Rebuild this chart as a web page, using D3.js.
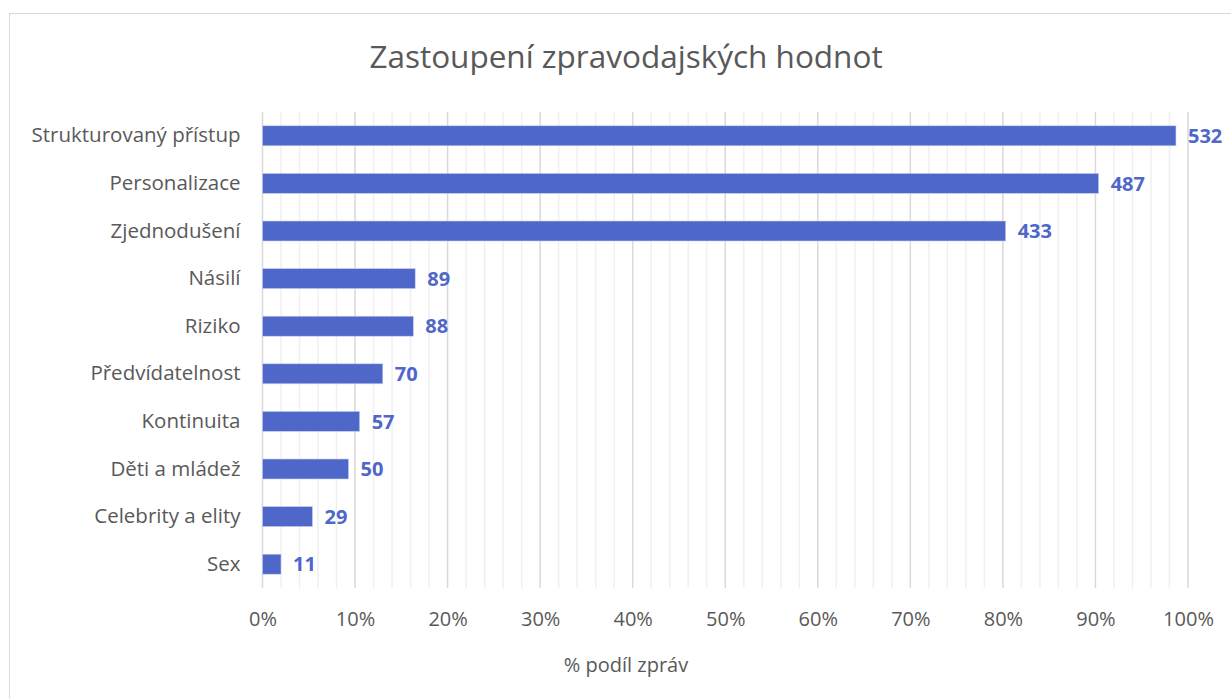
<!DOCTYPE html>
<html>
<head>
<meta charset="utf-8">
<script src="https://cdn.jsdelivr.net/npm/d3@7"></script>
<style>
  body { margin: 0; background: #fff; }
  svg { display: block; font-family: 'Open Sans', sans-serif; }
</style>
</head>
<body>
<svg width="1231" height="698"></svg>
<script>
// data
const categories = ['Strukturovaný přístup', 'Personalizace', 'Zjednodušení', 'Násilí', 'Riziko',
  'Předvídatelnost', 'Kontinuita', 'Děti a mládež', 'Celebrity a elity', 'Sex'];
const shares = [98.7, 90.35, 80.3, 16.5, 16.3, 13.0, 10.5, 9.3, 5.4, 2.0];
const counts = [532, 487, 433, 89, 88, 70, 57, 50, 29, 11];
const xTicks = [0, 10, 20, 30, 40, 50, 60, 70, 80, 90, 100];

let svg = d3.select('svg');
let margin = {top: 112, right: 43, bottom: 110, left: 262.5};
let width = +svg.attr('width') - margin.left - margin.right;
let height = +svg.attr('height') - margin.top - margin.bottom;

// outer chart border
svg.append('rect')
  .attr('x', 9.5).attr('y', 13.5)
  .attr('width', 1240).attr('height', 700)
  .attr('fill', 'none')
  .attr('stroke', '#d9d9d9');

svg.append('text')
  .attr('x', 626).attr('y', 68)
  .attr('text-anchor', 'middle')
  .attr('fill', '#595959')
  .style('font-size', '31.5px')
  .text('Zastoupení zpravodajských hodnot');

let g = svg.append('g').attr('transform', 'translate(' + margin.left + ',' + margin.top + ')');

let x = d3.scaleLinear().domain([0, 100]).range([0, width]);
let y = d3.scaleBand().domain(categories).range([0, height]).paddingInner(0.58).paddingOuter(0.29);

// minor gridlines every 2 %
g.append('g')
  .selectAll('line')
  .data(d3.range(0, 101, 2).filter(v => v % 10 !== 0))
  .join('line')
  .attr('x1', d => x(d)).attr('x2', d => x(d))
  .attr('y1', 0).attr('y2', height)
  .attr('stroke', '#f0f0f0')
  .attr('stroke-width', 1.5);

// major gridlines
g.append('g')
  .selectAll('line')
  .data(xTicks)
  .join('line')
  .attr('x1', d => x(d)).attr('x2', d => x(d))
  .attr('y1', 0).attr('y2', height)
  .attr('stroke', '#d9d9d9')
  .attr('stroke-width', 1.5);

// x axis labels
let xAxis = g.append('g')
  .attr('transform', 'translate(0,' + height + ')')
  .call(d3.axisBottom(x).tickValues(xTicks).tickSize(0).tickPadding(24).tickFormat(d => d + '%'));
xAxis.select('.domain').remove();
xAxis.selectAll('text')
  .attr('fill', '#595959')
  .style('font-size', '20px')
  .style('font-family', "'Open Sans', sans-serif");

// y axis labels
let yAxis = g.append('g')
  .call(d3.axisLeft(y).tickSize(0).tickPadding(22));
yAxis.select('.domain').remove();
yAxis.selectAll('text')
  .attr('fill', '#595959')
  .style('font-size', '20.5px')
  .style('font-family', "'Open Sans', sans-serif");

let rows = categories.map((c, i) => ({cat: c, share: shares[i], count: counts[i]}));

g.append('g')
  .selectAll('rect')
  .data(rows)
  .join('rect')
  .attr('x', x(0))
  .attr('y', d => y(d.cat))
  .attr('width', d => x(d.share) - x(0))
  .attr('height', y.bandwidth())
  .attr('fill', '#4e67c8')
  .attr('stroke', '#c9d1ef')
  .attr('stroke-width', 0.6);

g.append('g')
  .selectAll('text')
  .data(rows)
  .join('text')
  .attr('x', d => x(d.share) + 12)
  .attr('y', d => y(d.cat) + y.bandwidth() / 2)
  .attr('dy', '0.36em')
  .attr('fill', '#4e67c8')
  .style('font-size', '20px')
  .style('font-weight', 'bold')
  .text(d => d.count);

svg.append('text')
  .attr('x', 626).attr('y', 672)
  .attr('text-anchor', 'middle')
  .attr('fill', '#595959')
  .style('font-size', '20px')
  .text('% podíl zpráv');
</script>
</body>
</html>
